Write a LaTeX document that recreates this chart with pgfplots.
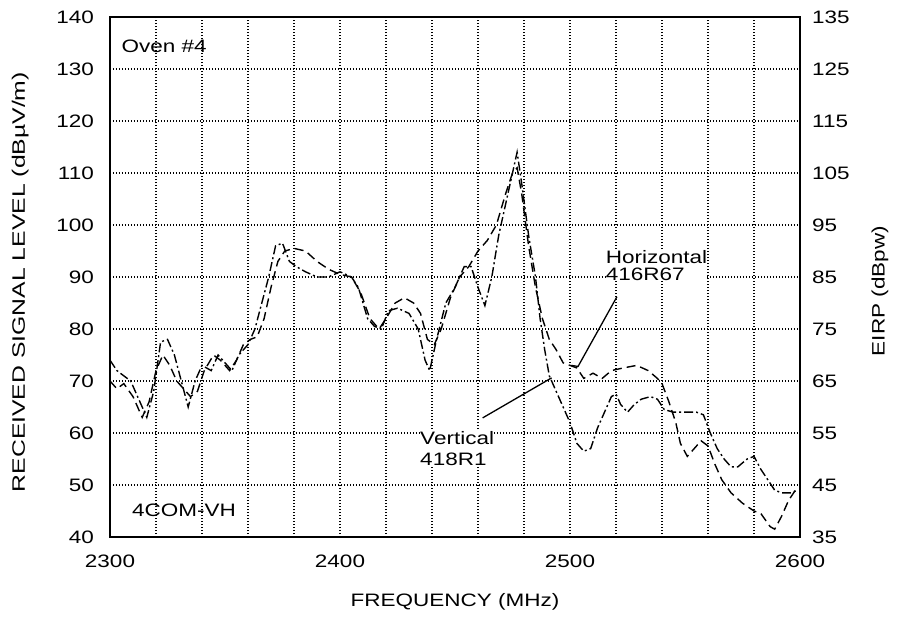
\documentclass[border=0pt]{standalone}
\usepackage{fontspec}
\setmainfont{Liberation Sans}[FakeStretch=1.25]
\usepackage{graphicx}
\usepackage{pgfplots}
\pgfplotsset{compat=1.18}
\newcommand\pf{\fontsize{18bp}{18bp}\selectfont}
\begin{document}
\begin{tikzpicture}
\pgfplotsset{
  common/.style={
    width=690bp, height=520bp, scale only axis,
    xmin=2300, xmax=2600,
    major tick length=0pt, minor tick length=0pt,
    tick label style={font=\pf},
    label style={font=\pf},
    /pgf/number format/assume math mode=true,
    /pgf/number format/set thousands separator={},
  }
}
\begin{axis}[common, name=ax,
  ymin=40, ymax=140,
  xtick={2300,2400,2500,2600},
  minor xtick={2320,2340,2360,2380,2420,2440,2460,2480,2520,2540,2560,2580},
  ytick={40,50,...,140},
  grid=both,
  major grid style={black, line width=1.1bp, dash pattern=on 1.3bp off 1.7bp},
  minor grid style={black, line width=1.1bp, dash pattern=on 1.3bp off 1.7bp},
  axis line style={line width=1.6bp},
  xticklabel style={anchor=base, yshift=-30bp, inner sep=0pt},
  yticklabel style={anchor=east, xshift=-16bp, inner sep=0pt},
  xlabel={FREQUENCY (MHz)},
  xlabel style={at={(axis description cs:0.5,-0.125)}, anchor=center},
  ylabel={\scalebox{1.1}[1]{RECEIVED SIGNAL LEVEL (dB\textmu V/m)}},
  ylabel style={at={(axis description cs:-0.13,0.49)}, anchor=center, rotate=0},
]
% Horizontal 416R67
\addplot[black, line width=1.4bp, dash pattern=on 9bp off 5bp] coordinates {
(2300,70)(2303,68.5)(2306,69.5)(2310,67)(2314,63)(2317,66)(2320,72)(2323,75)(2326,73)(2329,70)(2332,68.5)(2335,67)(2338,68)(2341,72)(2345,75)(2348,74)(2352,72)(2355,74)(2358,77)(2361,78)(2364,78.5)(2367,82)(2370,88)(2373,93)(2376,95)(2380,95.5)(2385,95)(2390,93)(2395,91.5)(2400,90.5)(2405,90)(2409,87)(2413,82)(2417,80)(2420,82)(2424,85)(2428,86)(2432,85)(2435,83)(2438,78)(2441,77)(2444,80)(2448,86)(2452,90)(2456,92)(2460,95)(2464,97)(2468,100)(2472,106)(2475,110)(2477,111)(2479,106)(2482,96)(2485,88)(2488,82)(2491,78)(2494,76)(2497,73.5)(2500,73)(2503,72.5)(2506,70.5)(2510,71.5)(2514,70.5)(2518,72)(2523,72.5)(2529,73)(2534,72)(2538,70.5)(2540,69.5)(2543,66)(2546,62)(2548,58)(2551,55.5)(2554,57)(2557,58.5)(2560,57.5)(2563,54)(2566,51)(2570,48.5)(2575,46.5)(2580,45)(2583,44.5)(2587,42)(2589,41.5)(2592,44)(2595,47)(2598,49)
};
% Vertical 418R1
\addplot[black, line width=1.4bp, dash pattern=on 9bp off 3bp on 2bp off 3bp] coordinates {
(2300,74)(2303,72)(2306,71)(2309,70)(2313,66)(2316,63)(2319,68)(2322,77.5)(2325,78)(2328,75)(2331,70)(2334,65)(2337,70)(2340,73)(2344,72)(2347,75)(2350,73.5)(2353,72)(2356,75)(2360,77)(2363,80)(2366,85)(2369,90)(2372,96)(2375,96.5)(2378,93)(2381,92)(2385,91)(2390,90)(2395,90)(2400,91)(2405,90)(2408,88)(2412,82)(2415,80.5)(2418,80)(2421,83.5)(2425,84)(2430,83)(2434,80)(2437,74)(2439,72)(2442,78)(2446,85)(2450,88)(2454,92)(2457,92)(2460,88)(2463,84.5)(2466,90)(2469,98)(2472,104)(2475,110)(2477,114)(2479,108)(2482,98)(2485,90)(2487,82)(2489,76)(2491,71)(2494,68)(2497,65)(2500,62)(2503,58)(2506,56.5)(2509,57)(2512,61)(2515,64)(2518,67)(2520,67.5)(2522,65.5)(2525,64)(2528,65.5)(2531,66.5)(2535,67)(2538,66.5)(2541,64.5)(2545,64)(2550,64)(2555,64)(2558,63.5)(2561,60)(2564,57)(2567,55)(2570,53.5)(2573,53.5)(2577,55)(2580,55.5)(2583,53)(2586,51)(2589,49)(2592,48.5)(2596,48.5)(2599,49)
};
\node[font=\pf, anchor=west, inner sep=0pt] at (axis cs:2305,134.4) {Oven \#4};
\node[font=\pf, anchor=west, inner sep=0pt] at (axis cs:2309.5,45.2) {4COM-VH};
\node[font={\fontsize{18bp}{17bp}\selectfont}, anchor=north west, align=left, inner sep=0pt, fill=white] at (axis cs:2515.5,95.2) {Horizontal\\416R67};
\node[font={\fontsize{18bp}{21bp}\selectfont}, anchor=north west, align=left, inner sep=0pt, fill=white] at (axis cs:2434.8,60.4) {Vertical\\418R1};
\draw[line width=1.3bp] (axis cs:2520.4,86.2) -- (axis cs:2503.5,72.8) -- (axis cs:2500.5,73);
\draw[line width=1.3bp] (axis cs:2462,62.9) -- (axis cs:2492,70.6);
\end{axis}
\begin{axis}[common,
  ymin=35, ymax=135,
  axis x line=none,
  axis y line*=right,
  axis line style={line width=1.6bp},
  ytick={35,45,...,135},
  yticklabel style={anchor=west, xshift=12bp, inner sep=0pt},
  ylabel={EIRP (dBpw)},
  ylabel style={at={(axis description cs:1.116,0.473)}, anchor=center, rotate=0},
]
\addplot[draw=none] coordinates {(2300,35)};
\end{axis}
\pgfresetboundingbox
\path ([xshift=-110bp,yshift=-82bp]ax.south west) rectangle ([xshift=98bp,yshift=17bp]ax.north east);
\end{tikzpicture}
\end{document}
